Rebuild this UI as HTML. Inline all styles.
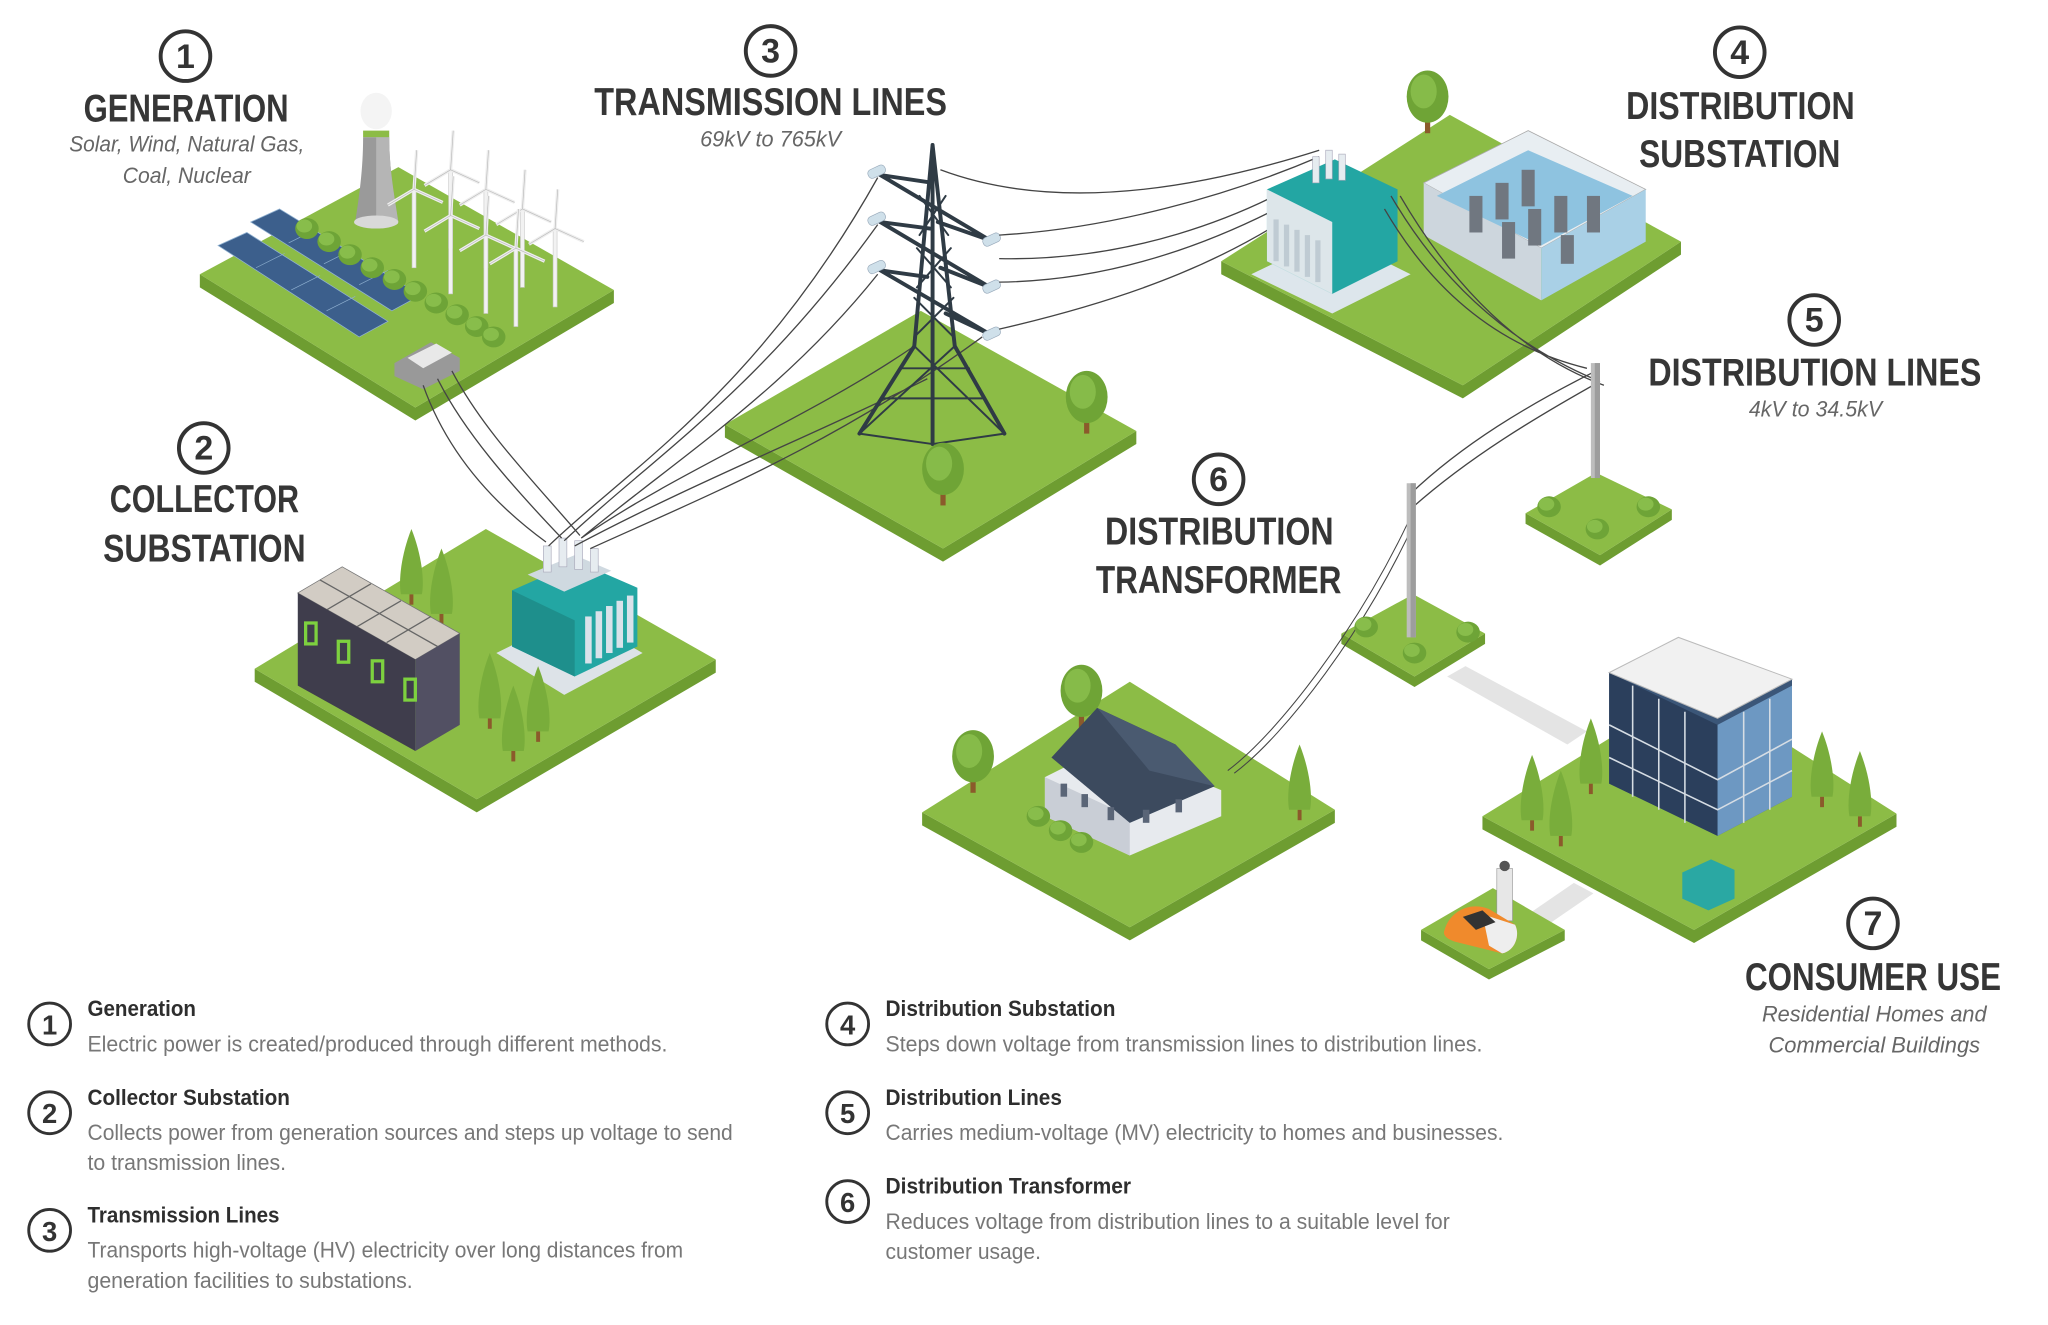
<!DOCTYPE html>
<html><head><meta charset="utf-8"><style>
html,body{margin:0;padding:0;background:#fff;width:2048px;height:1325px;overflow:hidden}
svg{display:block}
.h{font-family:"Liberation Sans",sans-serif;font-weight:bold;fill:#363636}
.s{font-family:"Liberation Sans",sans-serif;font-style:italic;fill:#666}
.n{font-family:"Liberation Sans",sans-serif;font-weight:bold;fill:#333}
.lt{font-family:"Liberation Sans",sans-serif;font-weight:bold;fill:#2e2e2e}
.ld{font-family:"Liberation Sans",sans-serif;fill:#777}
.side{fill:#6e9d31}.top{fill:#8cbc46}
.w{fill:none;stroke:#444;stroke-width:1}
</style></head><body>
<svg width="2048" height="1325" viewBox="0 0 1568 1014.5" preserveAspectRatio="none" xmlns="http://www.w3.org/2000/svg">
<defs>
<g id="tree"><rect x="-2" y="0" width="4" height="22" fill="#8b5a2b"/><ellipse cx="0" cy="-6" rx="16" ry="20" fill="#6fa436"/><ellipse cx="-3" cy="-10" rx="10" ry="13" fill="#86bb49"/></g>
<g id="cyp"><rect x="-1.5" y="0" width="3" height="8" fill="#8b5a2b"/><path d="M0,-50 C8,-30 10,-10 8,0 L-8,0 C-10,-10 -8,-30 0,-50Z" fill="#79ad3b"/></g>
<g id="bush"><ellipse cx="0" cy="0" rx="9" ry="8" fill="#6ea437"/><ellipse cx="-2" cy="-2" rx="6" ry="5" fill="#88bd4b"/></g>
<g id="turb"><rect x="-1.5" y="-60" width="3" height="60" fill="#f2f2f2" stroke="#ccc" stroke-width=".5"/><path d="M0,-60 L2,-90 M0,-60 L22,-50 M0,-60 L-20,-48" stroke="#eee" stroke-width="2.5"/><path d="M0,-60 L2,-90 M0,-60 L22,-50 M0,-60 L-20,-48" stroke="#bbb" stroke-width=".5"/></g>
</defs>

<polygon points="1108,518 1122,510 1215,560 1200,570" fill="#e4e4e4"/>
<polygon points="1170,700 1205,676 1220,684 1185,708" fill="#e4e4e4"/>

<g>
<polygon class="side" points="153,210 318,312 470,222 470,232 318,322 153,220"/>
<polygon class="top" points="153,210 305,128 470,222 318,312"/>
<polygon class="side" points="195,512 365,612 548,505 548,515 365,622 195,522"/>
<polygon class="top" points="195,512 372,405 548,505 365,612"/>
<polygon class="side" points="555,325 722,420 870,330 870,340 722,430 555,335"/>
<polygon class="top" points="555,325 705,238 870,330 722,420"/>
<polygon class="side" points="935,200 1120,295 1287,185 1287,195 1120,305 935,210"/>
<polygon class="top" points="935,200 1110,88 1287,185 1120,295"/>
<polygon class="side" points="1168,393 1225,425 1280,390 1280,398 1225,433 1168,401"/>
<polygon class="top" points="1168,393 1222,362 1280,390 1225,425"/>
<polygon class="side" points="1027,485 1083,518 1137,485 1137,493 1083,526 1027,493"/>
<polygon class="top" points="1027,485 1082,455 1137,485 1083,518"/>
<polygon class="side" points="706,622 865,710 1022,620 1022,630 865,720 706,632"/>
<polygon class="top" points="706,622 865,522 1022,620 865,710"/>
<polygon class="side" points="1135,625 1297,712 1452,623 1452,633 1297,722 1135,635"/>
<polygon class="top" points="1135,625 1298,525 1452,623 1297,712"/>
<polygon class="side" points="1088,712 1140,742 1198,712 1198,720 1140,750 1088,720"/>
<polygon class="top" points="1088,712 1143,680 1198,712 1140,742"/>
</g>

<!-- generation -->
<path d="M272,170 C275,150 278,130 278,105 L298,105 C298,130 302,150 305,170 Z" fill="#9a9a9a"/>
<path d="M288,105 L298,105 C298,130 302,150 305,170 L288,172Z" fill="#b5b5b5"/>
<ellipse cx="288" cy="170" rx="17" ry="5" fill="#d9d9d9"/>
<rect x="278" y="100" width="20" height="5" fill="#8cbc46"/>
<ellipse cx="288" cy="85" rx="12" ry="14" fill="#f4f4f4"/>
<g fill="#3c5f8c" stroke="#8fb0d0" stroke-width=".6">
<polygon points="192,170 214,160 322,226 300,238"/>
<polygon points="167,188 189,178 297,246 275,258"/>
</g>
<g stroke="#8fb0d0" stroke-width=".5"><path d="M221,186 L243,175 M248,202 L270,191 M275,218 L297,207 M196,205 L218,194 M223,222 L245,211 M250,238 L272,227"/></g>
<g><use href="#bush" x="235" y="175"/><use href="#bush" x="252" y="185"/><use href="#bush" x="268" y="195"/><use href="#bush" x="285" y="205"/><use href="#bush" x="302" y="214"/><use href="#bush" x="318" y="223"/><use href="#bush" x="334" y="232"/><use href="#bush" x="350" y="241"/><use href="#bush" x="365" y="250"/><use href="#bush" x="378" y="258"/></g>
<g><use href="#turb" x="317" y="205"/><use href="#turb" x="345" y="190"/><use href="#turb" x="345" y="225"/><use href="#turb" x="372" y="205"/><use href="#turb" x="372" y="240"/><use href="#turb" x="400" y="220"/><use href="#turb" x="395" y="250"/><use href="#turb" x="425" y="235"/></g>
<polygon points="302,278 330,262 352,274 352,284 324,298 302,288" fill="#999"/>
<polygon points="312,274 334,263 346,270 324,282" fill="#e8e8e8"/>

<!-- collector -->
<use href="#cyp" x="315" y="455"/><use href="#cyp" x="338" y="470"/>
<polygon points="228,454 262,434 352,485 318,505" fill="#d2ccc4" stroke="#777" stroke-width=".6"/>
<g stroke="#666" stroke-width="1"><path d="M250,467 L284,447 M273,480 L307,460 M296,492 L330,472 M245,444 L335,495"/></g>
<polygon points="228,454 318,505 318,575 228,525" fill="#3f3d4c"/>
<polygon points="318,505 352,485 352,555 318,575" fill="#525063"/>
<g fill="none" stroke="#7dd13f" stroke-width="2.5"><rect x="234" y="477" width="8" height="16"/><rect x="259" y="491" width="8" height="16"/><rect x="285" y="506" width="8" height="16"/><rect x="310" y="520" width="8" height="16"/></g>
<polygon points="380,500 440,470 492,500 432,532" fill="#dde3e8"/>
<polygon points="392,452 442,430 488,450 488,495 440,518 392,495" fill="#23a6a3"/>
<polygon points="392,452 440,475 440,518 392,495" fill="#1e8f8c"/>
<g fill="#d9e2ea"><rect x="448" y="472" width="5" height="36"/><rect x="456" y="468" width="5" height="36"/><rect x="464" y="464" width="5" height="36"/><rect x="472" y="460" width="5" height="36"/><rect x="480" y="456" width="5" height="36"/></g>
<polygon points="404,440 440,425 468,437 432,453" fill="#cfd9e0"/>
<g fill="#e6ecf0" stroke="#aab" stroke-width=".5"><rect x="416" y="418" width="6" height="20"/><rect x="428" y="412" width="6" height="22"/><rect x="440" y="414" width="6" height="22"/><rect x="452" y="420" width="6" height="18"/></g>
<use href="#cyp" x="375" y="550"/><use href="#cyp" x="393" y="575"/><use href="#cyp" x="412" y="560"/>

<path class="w" d="M324,295 C340,340 370,380 418,415 M335,290 C355,330 390,370 430,412 M346,284 C370,330 410,370 444,410"/>
<path class="w" d="M420,418 C480,360 580,300 672,136 M432,414 C500,350 580,300 672,172 M445,412 C520,350 600,300 672,210 M445,412 C520,360 620,320 700,265 M440,418 C530,370 630,330 710,290 M452,420 C540,380 640,340 752,258"/>

<!-- tower -->
<g stroke="#2f3b45" fill="none" stroke-linecap="round">
<path stroke-width="3" d="M714,111 L700,265 L658,332 M714,111 L731,265 L769,332 M714,111 L714,340"/>
<path stroke-width="3" d="M674,134 L758,184 M674,170 L758,220 M674,207 L758,256 M674,134 L714,140 M674,170 L712,175 M674,207 L710,212 M758,184 L718,170 M758,220 L720,205 M758,256 L724,240"/>
<path stroke-width="1.5" d="M704,150 L726,180 M724,150 L704,180 M702,190 L728,220 M728,190 L702,220 M700,228 L730,258 M730,228 L700,258 M700,265 L769,332 M731,265 L658,332 M690,282 L742,282 M676,305 L752,305 M658,332 L714,340 L769,332"/>
</g>
<g fill="#cfe0ea" stroke="#9ab" stroke-width=".5"><rect x="664" y="128" width="14" height="7" rx="3" transform="rotate(-25 671 131)"/><rect x="664" y="164" width="14" height="7" rx="3" transform="rotate(-25 671 167)"/><rect x="664" y="201" width="14" height="7" rx="3" transform="rotate(-25 671 204)"/><rect x="752" y="180" width="14" height="7" rx="3" transform="rotate(-25 759 183)"/><rect x="752" y="216" width="14" height="7" rx="3" transform="rotate(-25 759 219)"/><rect x="752" y="252" width="14" height="7" rx="3" transform="rotate(-25 759 255)"/></g>
<path class="w" d="M720,130 C800,160 900,150 1010,115 M765,180 C850,175 940,150 1010,120 M765,198 C860,200 950,170 1020,125 M765,216 C860,215 950,180 1030,130 M765,252 C860,230 950,200 1030,135"/>
<use href="#tree" x="832" y="310"/><use href="#tree" x="722" y="365"/>

<!-- distribution substation -->
<use href="#tree" x="1093" y="80"/>
<polygon points="958,210 1020,180 1080,210 1020,240" fill="#dde6ec"/>
<polygon points="970,145 1022,122 1070,145 1070,200 1020,225 970,200" fill="#23a6a3"/>
<polygon points="970,145 1020,170 1020,225 970,200" fill="#dde6ea"/>
<g fill="#bfcbd3"><rect x="975" y="168" width="4" height="32"/><rect x="983" y="172" width="4" height="32"/><rect x="991" y="176" width="4" height="32"/><rect x="999" y="180" width="4" height="32"/><rect x="1007" y="184" width="4" height="32"/></g>
<g fill="#e6ecf0" stroke="#aab" stroke-width=".5"><rect x="1005" y="120" width="5" height="20"/><rect x="1015" y="115" width="5" height="22"/><rect x="1025" y="118" width="5" height="20"/></g>
<polygon points="1090,140 1170,100 1260,145 1180,190" fill="#e8eef2" stroke="#aaa" stroke-width=".6"/>
<polygon points="1090,140 1180,190 1180,230 1090,180" fill="#cdd6dd"/>
<polygon points="1180,190 1260,145 1260,185 1180,230" fill="#a9d0e6"/>
<polygon points="1100,150 1170,115 1250,150 1180,188" fill="#8ec3e0"/>
<g fill="#707780"><rect x="1125" y="150" width="10" height="28"/><rect x="1145" y="140" width="10" height="28"/><rect x="1165" y="130" width="10" height="28"/><rect x="1150" y="170" width="10" height="28"/><rect x="1170" y="160" width="10" height="28"/><rect x="1190" y="150" width="10" height="28"/><rect x="1215" y="150" width="10" height="28"/><rect x="1195" y="180" width="10" height="22"/></g>

<path class="w" d="M1065,150 C1100,210 1150,260 1220,290 M1072,150 C1110,215 1160,270 1228,295 M1060,160 C1095,220 1145,265 1215,282"/>
<path class="w" d="M1080,378 C1120,340 1170,310 1220,285 M1082,388 C1125,350 1175,320 1225,292"/>
<path d="M940,590 C980,560 1040,480 1078,400 M945,592 C985,562 1045,482 1082,402" fill="none" stroke="#444" stroke-width=".8"/>
<rect x="1218" y="278" width="7" height="88" fill="#bdbdbd"/><rect x="1221" y="278" width="4" height="88" fill="#9d9d9d"/>
<rect x="1077" y="370" width="7" height="118" fill="#bdbdbd"/><rect x="1080" y="370" width="4" height="118" fill="#9d9d9d"/>
<use href="#bush" x="1186" y="388"/><use href="#bush" x="1262" y="388"/><use href="#bush" x="1223" y="405"/>
<use href="#bush" x="1046" y="480"/><use href="#bush" x="1124" y="484"/><use href="#bush" x="1083" y="500"/>

<!-- house -->
<use href="#tree" x="828" y="535"/><use href="#tree" x="745" y="585"/><use href="#cyp" x="995" y="620"/>
<polygon points="800,595 850,570 935,605 935,625 865,655 800,625" fill="#e7eaee"/>
<polygon points="800,595 865,625 865,655 800,625" fill="#c9ced6"/>
<polygon points="805,580 840,542 900,570 930,602 865,630" fill="#3c4a5e"/>
<polygon points="840,542 900,570 930,602 880,590" fill="#4a5a70"/>
<g fill="#5a6577"><rect x="812" y="600" width="5" height="10"/><rect x="828" y="608" width="5" height="10"/><rect x="848" y="618" width="5" height="10"/><rect x="875" y="620" width="5" height="10"/><rect x="900" y="612" width="5" height="10"/></g>
<use href="#bush" x="795" y="625"/><use href="#bush" x="812" y="636"/><use href="#bush" x="828" y="645"/>

<!-- office -->
<polygon points="1232,515 1285,488 1372,520 1372,610 1315,640 1232,600" fill="#3b5678"/>
<polygon points="1232,515 1315,555 1315,640 1232,600" fill="#2b3f5c"/>
<polygon points="1315,555 1372,525 1372,610 1315,640" fill="#6d98c2"/>
<polygon points="1232,515 1285,488 1372,520 1315,550" fill="#f1f1f1" stroke="#bbb" stroke-width=".8"/>
<g stroke="#d6dde4" stroke-width="1.2" fill="none"><path d="M1232,555 L1315,597 L1372,566 M1232,580 L1315,620 L1372,590"/><path d="M1250,525 L1250,610 M1270,535 L1270,620 M1290,545 L1290,630 M1335,545 L1335,630 M1355,535 L1355,620"/></g>
<polygon points="1288,668 1310,658 1328,666 1328,688 1308,697 1288,688" fill="#2aa8a3"/>
<use href="#cyp" x="1173" y="628"/><use href="#cyp" x="1195" y="640"/><use href="#cyp" x="1218" y="600"/><use href="#cyp" x="1395" y="610"/><use href="#cyp" x="1424" y="625"/>

<rect x="1146" y="665" width="12" height="40" fill="#e7e7e7" stroke="#999" stroke-width=".5"/>
<circle cx="1152" cy="663" r="4" fill="#555"/>
<path d="M1106,712 C1110,698 1125,690 1140,696 L1160,708 C1164,716 1160,728 1150,730 L1118,722 C1108,720 1104,716 1106,712Z" fill="#f08a2c"/>
<path d="M1135,700 L1160,708 C1164,716 1160,728 1150,730 L1140,724Z" fill="#eee"/>
<path d="M1120,702 L1135,697 L1145,706 L1130,712Z" fill="#333"/>

<!-- labels -->
<g fill="none" stroke="#333" stroke-width="3">
<circle cx="142" cy="43" r="19"/><circle cx="590" cy="39" r="19"/><circle cx="1332" cy="40" r="19"/><circle cx="156" cy="343" r="19"/><circle cx="1389" cy="245" r="19"/><circle cx="933" cy="367" r="19"/><circle cx="1434" cy="707" r="19"/>
</g>
<g class="n" font-size="26" text-anchor="middle">
<text x="142" y="52">1</text><text x="590" y="48">3</text><text x="1332" y="49">4</text><text x="156" y="352">2</text><text x="1389" y="254">5</text><text x="933" y="376">6</text><text x="1434" y="716">7</text>
</g>
<g class="h" font-size="30">
<text x="64" y="93" textLength="157" lengthAdjust="spacingAndGlyphs">GENERATION</text>
<text x="455" y="88" textLength="270" lengthAdjust="spacingAndGlyphs">TRANSMISSION LINES</text>
<text x="1245" y="91" textLength="175" lengthAdjust="spacingAndGlyphs">DISTRIBUTION</text>
<text x="1255" y="128" textLength="154" lengthAdjust="spacingAndGlyphs">SUBSTATION</text>
<text x="84" y="392" textLength="145" lengthAdjust="spacingAndGlyphs">COLLECTOR</text>
<text x="79" y="430" textLength="155" lengthAdjust="spacingAndGlyphs">SUBSTATION</text>
<text x="1262" y="295" textLength="255" lengthAdjust="spacingAndGlyphs">DISTRIBUTION LINES</text>
<text x="846" y="417" textLength="175" lengthAdjust="spacingAndGlyphs">DISTRIBUTION</text>
<text x="839" y="454" textLength="188" lengthAdjust="spacingAndGlyphs">TRANSFORMER</text>
<text x="1336" y="758" textLength="196" lengthAdjust="spacingAndGlyphs">CONSUMER USE</text>
</g>
<g class="s" font-size="17" text-anchor="middle">
<text x="143" y="116" textLength="180" lengthAdjust="spacingAndGlyphs">Solar, Wind, Natural Gas,</text>
<text x="143" y="140" textLength="98" lengthAdjust="spacingAndGlyphs">Coal, Nuclear</text>
<text x="590" y="112" textLength="108" lengthAdjust="spacingAndGlyphs">69kV to 765kV</text>
<text x="1390" y="319" textLength="102" lengthAdjust="spacingAndGlyphs">4kV to 34.5kV</text>
<text x="1435" y="782" textLength="172" lengthAdjust="spacingAndGlyphs">Residential Homes and</text>
<text x="1435" y="806" textLength="162" lengthAdjust="spacingAndGlyphs">Commercial Buildings</text>
</g>

<g fill="none" stroke="#333" stroke-width="2.2">
<circle cx="38" cy="784" r="16"/><circle cx="38" cy="852" r="16"/><circle cx="38" cy="942" r="16"/>
<circle cx="649" cy="784" r="16"/><circle cx="649" cy="852" r="16"/><circle cx="649" cy="920" r="16"/>
</g>
<g class="n" font-size="21" text-anchor="middle">
<text x="38" y="792">1</text><text x="38" y="860">2</text><text x="38" y="950">3</text>
<text x="649" y="792">4</text><text x="649" y="860">5</text><text x="649" y="928">6</text>
</g>
<g class="lt" font-size="17">
<text x="67" y="778" textLength="83" lengthAdjust="spacingAndGlyphs">Generation</text>
<text x="67" y="846" textLength="155" lengthAdjust="spacingAndGlyphs">Collector Substation</text>
<text x="67" y="936" textLength="147" lengthAdjust="spacingAndGlyphs">Transmission Lines</text>
<text x="678" y="778" textLength="176" lengthAdjust="spacingAndGlyphs">Distribution Substation</text>
<text x="678" y="846" textLength="135" lengthAdjust="spacingAndGlyphs">Distribution Lines</text>
<text x="678" y="914" textLength="188" lengthAdjust="spacingAndGlyphs">Distribution Transformer</text>
</g>
<g class="ld" font-size="17">
<text x="67" y="805" textLength="444" lengthAdjust="spacingAndGlyphs">Electric power is created/produced through different methods.</text>
<text x="67" y="873" textLength="494" lengthAdjust="spacingAndGlyphs">Collects power from generation sources and steps up voltage to send</text>
<text x="67" y="896" textLength="152" lengthAdjust="spacingAndGlyphs">to transmission lines.</text>
<text x="67" y="963" textLength="456" lengthAdjust="spacingAndGlyphs">Transports high-voltage (HV) electricity over long distances from</text>
<text x="67" y="986" textLength="249" lengthAdjust="spacingAndGlyphs">generation facilities to substations.</text>
<text x="678" y="805" textLength="457" lengthAdjust="spacingAndGlyphs">Steps down voltage from transmission lines to distribution lines.</text>
<text x="678" y="873" textLength="473" lengthAdjust="spacingAndGlyphs">Carries medium-voltage (MV) electricity to homes and businesses.</text>
<text x="678" y="941" textLength="432" lengthAdjust="spacingAndGlyphs">Reduces voltage from distribution lines to a suitable level for</text>
<text x="678" y="964" textLength="119" lengthAdjust="spacingAndGlyphs">customer usage.</text>
</g>
</svg>
</body></html>
